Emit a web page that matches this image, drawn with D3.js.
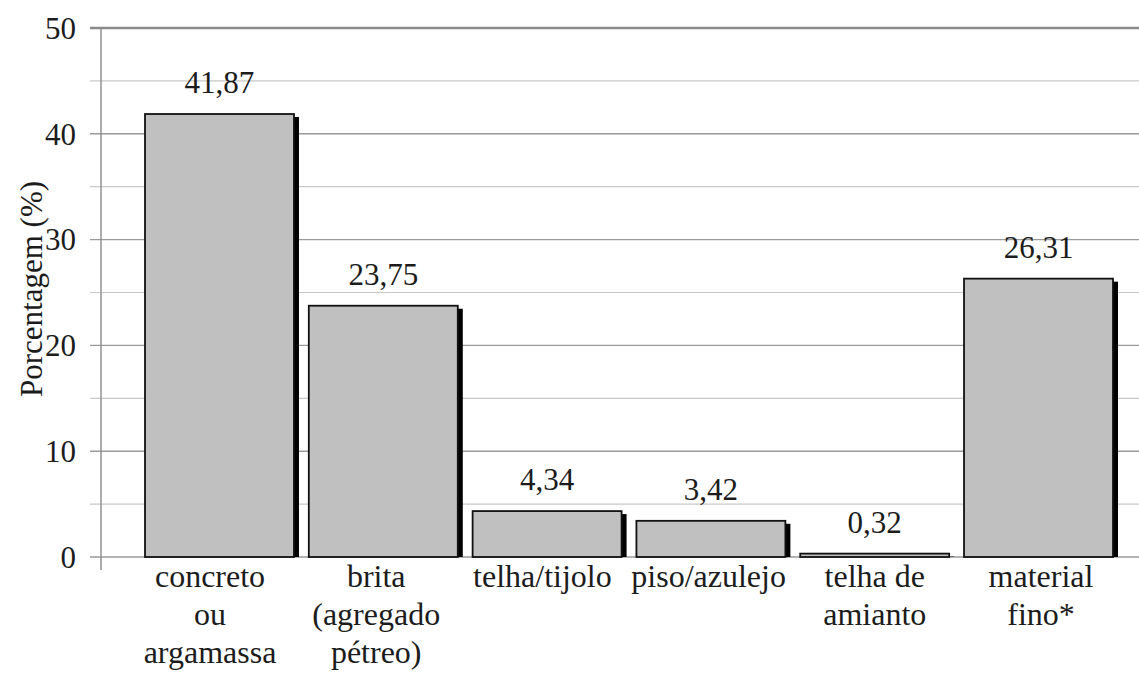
<!DOCTYPE html>
<html>
<head>
<meta charset="utf-8">
<script src="https://cdn.jsdelivr.net/npm/d3@7"></script>
<style>
  html, body { margin: 0; padding: 0; background: #fff; }
  svg { display: block; }
</style>
</head>
<body>
<svg id="chart" width="1139" height="680"></svg>
<script>
// Composition of the material (percent by category)
const categories = [
  ["concreto", "ou", "argamassa"],
  ["brita", "(agregado", "pétreo)"],
  ["telha/tijolo"],
  ["piso/azulejo"],
  ["telha de", "amianto"],
  ["material", "fino*"]
];
const values = [41.87, 23.75, 4.34, 3.42, 0.32, 26.31];
const majorTicks = [0, 10, 20, 30, 40, 50];
const minorTicks = [5, 15, 25, 35, 45];
const yTitle = "Porcentagem (%)";

const serif = '"Liberation Serif"';
const ink = "#1c1c1c";

const svg = d3.select("#chart");
const axisX = 101, plotRight = 1139;
const shadowW = 5;
const y = d3.scaleLinear().domain([0, 50]).range([557, 28]);
const x = d3.scaleBand()
  .domain(d3.range(values.length))
  .range([145, 1118])
  .paddingInner(0.06)
  .paddingOuter(0);
// category label anchors along the axis
const xl = d3.scalePoint()
  .domain(d3.range(values.length))
  .range([210, 1041]);

const fmt = v => d3.format(".2f")(v).replace(".", ",");
const bodyW = x.bandwidth() - shadowW;
const cx = i => x(i) + bodyW / 2;

// Gridlines (minor lighter, major darker)
svg.append("g").selectAll("line").data(minorTicks).join("line")
  .attr("x1", axisX - 11).attr("x2", plotRight)
  .attr("y1", d => y(d)).attr("y2", d => y(d))
  .attr("stroke", "#c8c8c8").attr("stroke-width", 1.2);

svg.append("g").selectAll("line").data(majorTicks).join("line")
  .attr("x1", axisX - 11).attr("x2", plotRight)
  .attr("y1", d => y(d)).attr("y2", d => y(d))
  .attr("stroke", d => d === 50 ? "#8a8a8a" : "#9a9a9a")
  .attr("stroke-width", d => d === 50 ? 2.4 : 1.4);

// Vertical axis line
svg.append("line")
  .attr("x1", axisX).attr("x2", axisX)
  .attr("y1", y(50)).attr("y2", y(0) + 13)
  .attr("stroke", "#8a8a8a").attr("stroke-width", 1.4);

// Tick labels
svg.append("g").selectAll("text").data(majorTicks).join("text")
  .attr("x", 76).attr("y", d => y(d))
  .attr("dy", "0.35em")
  .attr("text-anchor", "end")
  .style("font-family", serif)
  .style("font-size", "31px")
  .attr("fill", ink)
  .text(d => d);

// Y title
svg.append("text")
  .attr("transform", "translate(42,289) rotate(-90)")
  .attr("text-anchor", "middle")
  .style("font-family", serif)
  .style("font-size", "31px")
  .attr("fill", ink)
  .text(yTitle);

// Bars: black drop shadow on the right, then grey body with dark outline
const bars = svg.append("g").selectAll("g").data(values).join("g");

bars.append("rect")
  .attr("x", (d, i) => x(i) + shadowW)
  .attr("y", d => Math.min(y(d) + 3, y(0)))
  .attr("width", bodyW)
  .attr("height", d => Math.max(y(0) - Math.min(y(d) + 3, y(0)), 0))
  .attr("fill", "#000");

bars.append("rect")
  .attr("x", (d, i) => x(i))
  .attr("y", d => y(d))
  .attr("width", bodyW)
  .attr("height", d => y(0) - y(d))
  .attr("fill", "#c0c0c0")
  .attr("stroke", "#111")
  .attr("stroke-width", 1.8);

// Value labels
bars.append("text")
  .attr("x", (d, i) => cx(i))
  .attr("y", d => y(d) - 21)
  .attr("text-anchor", "middle")
  .style("font-family", serif)
  .style("font-size", "31px")
  .attr("fill", ink)
  .text(d => fmt(d));

// Category labels (multi-line)
const cat = svg.append("g").selectAll("text").data(categories).join("text")
  .attr("text-anchor", "middle")
  .style("font-family", serif)
  .style("font-size", "32px")
  .attr("fill", ink);
cat.each(function(lines, i) {
  const t = d3.select(this);
  lines.forEach((ln, k) => {
    t.append("tspan")
      .attr("x", xl(i))
      .attr("y", 587 + k * 38)
      .text(ln);
  });
});
</script>
</body>
</html>
